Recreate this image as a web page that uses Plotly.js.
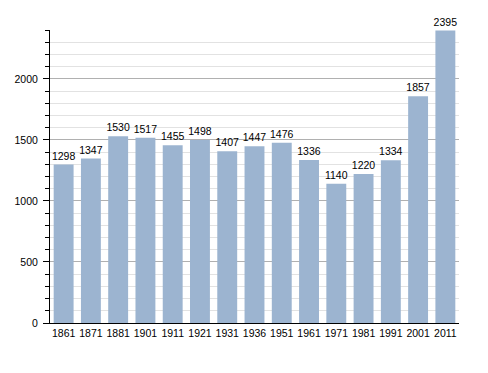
<!DOCTYPE html>
<html><head><meta charset="utf-8">
<script src="https://cdn.plot.ly/plotly-3.0.1.min.js"></script>
<style>html,body{margin:0;padding:0;background:#fff;}#chart{width:488px;height:373px;}</style>
</head><body><div id="chart"></div>
<script>
const years = ["1861","1871","1881","1901","1911","1921","1931","1936","1951","1961","1971","1981","1991","2001","2011"];
const population = [1298,1347,1530,1517,1455,1498,1407,1447,1476,1336,1140,1220,1334,1857,2395];

Plotly.newPlot('chart', [{
  type: 'bar',
  x: years,
  y: population,
  text: population.map(String),
  textposition: 'outside',
  constraintext: 'none',
  cliponaxis: false,
  textfont: {family: 'Liberation Sans, Arial, sans-serif', size: 10.5, color: '#000'},
  marker: {color: '#9cb4d0'},
  hoverinfo: 'none'
}], {
  width: 488, height: 373,
  margin: {l: 50, r: 29, t: 30, b: 50},
  paper_bgcolor: '#fff', plot_bgcolor: '#fff',
  bargap: 0.27,
  showlegend: false,
  font: {family: 'Liberation Sans, Arial, sans-serif', size: 10.5, color: '#000'},
  xaxis: {
    type: 'category',
    showline: true, linecolor: '#000', linewidth: 1,
    ticks: '', showgrid: false,
    tickfont: {size: 10.5}
  },
  yaxis: {
    range: [0, 2400],
    dtick: 500, tick0: 0,
    showline: true, linecolor: '#000', linewidth: 1,
    ticks: 'outside', ticklen: 6, tickcolor: '#000',
    ticklabelstandoff: 3,
    showgrid: true, gridcolor: '#b0b0b0', gridwidth: 1,
    zeroline: false,
    tickfont: {size: 10.5},
    minor: {dtick: 100, ticks: 'outside', ticklen: 4, tickcolor: '#000', showgrid: true, gridcolor: '#e2e2e2', gridwidth: 1}
  }
}, {staticPlot: true});
</script>
</body></html>
